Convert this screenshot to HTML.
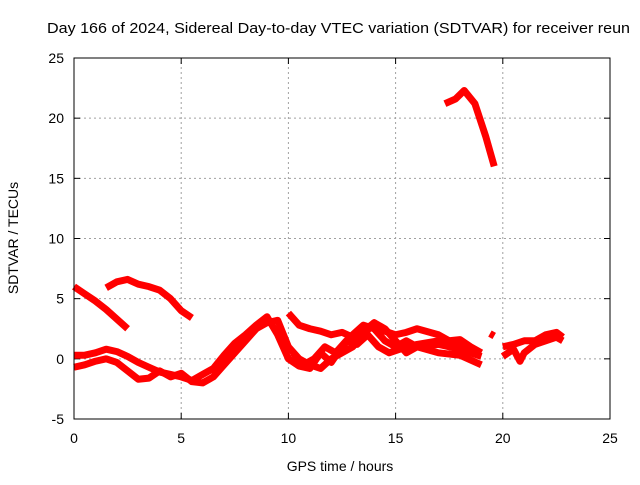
<!DOCTYPE html>
<html><head><meta charset="utf-8"><style>
body{margin:0;background:#fff}
svg text{font-family:"Liberation Sans",sans-serif;font-size:14px;fill:#000}
</style></head><body>
<svg id="c" width="640" height="480">
<text x="47" y="33" textLength="583" lengthAdjust="spacingAndGlyphs" style="font-size:15px">Day 166 of 2024, Sidereal Day-to-day VTEC variation (SDTVAR) for receiver reun</text>
<g id="grid"></g>
<g id="ticks"></g>
<g id="series"></g>
<rect x="74" y="58" width="536" height="361" fill="none" stroke="#000"/>
<text x="340" y="471" text-anchor="middle">GPS time / hours</text>
<text transform="translate(18,238) rotate(-90)" text-anchor="middle">SDTVAR / TECUs</text>
</svg>
<script>
const xTicks=[0,5,10,15,20,25];
const yTicks=[-5,0,5,10,15,20,25];
const seriesA=[[0,6.0],[0.5,5.4],[1,4.8],[1.5,4.1],[2,3.3],[2.5,2.5]];
const seriesB=[[1.5,5.9],[2,6.4],[2.5,6.6],[3,6.2],[3.5,6.0],[4,5.7],[4.5,5.0],[5,4.0],[5.5,3.4]];
const seriesC=[[17.3,21.2],[17.8,21.6],[18.2,22.3],[18.7,21.2],[19.2,18.5],[19.6,16.0]];
const seriesD=[[0,0.3],[0.5,0.3],[1,0.5],[1.5,0.8],[2,0.6],[2.5,0.2],[3,-0.3],[3.5,-0.7],[4,-1.1],[4.5,-1.3],[5,-1.5],[5.5,-1.8],[6,-1.3],[6.5,-0.8],[7,0.3],[7.5,1.3],[8,2.0],[8.5,2.8],[9,3.5],[9.5,2.0],[10,0.0],[10.5,-0.6],[11,-0.8],[11.5,0.5],[12,-0.3],[12.5,1.0],[13,2.0],[13.5,2.8],[14,2.5],[14.5,1.5],[15,1.0],[15.5,1.5],[16,1.0],[17,1.2],[18,0.8],[19,0.2]];
const seriesE=[[0,-0.7],[0.5,-0.5],[1,-0.2],[1.5,0.0],[2,-0.3],[2.5,-1.0],[3,-1.7],[3.5,-1.6],[4,-1.0],[4.5,-1.5],[5,-1.2],[5.5,-1.9],[6,-2.0],[6.5,-1.5],[7,-0.5],[7.5,0.5],[8,1.5],[8.5,2.5],[9,3.0],[9.5,3.2],[10,1.0],[10.5,0.0],[11,-0.5],[11.5,-0.8],[12,0.0],[12.5,0.5],[13,1.0],[13.5,2.0],[14,3.0],[14.5,2.5],[15,1.5],[15.5,0.5],[16,1.0],[17,0.5],[18,0.3],[19,-0.5]];
const seriesF=[[10,3.8],[10.5,2.8],[11,2.5],[11.5,2.3],[12,2.0],[12.5,2.2],[13,1.8],[13.5,2.3],[14,3.0],[14.5,2.3],[15,2.0],[15.5,2.2],[16,2.5],[17,2.0],[17.5,1.5],[18,1.6],[18.5,1.0],[19,0.5]];
const seriesG=[[10.2,0.5],[10.7,-0.5],[11.2,0.0],[11.7,1.0],[12.2,0.5],[12.7,1.5],[13.2,1.2],[13.7,2.0],[14.2,1.0],[14.7,0.5],[15.2,0.8],[16,1.2],[17,1.5],[18,1.3],[18.5,0.5]];
const seriesH=[[20,1.0],[20.5,1.2],[21,1.5],[21.5,1.5],[22,2.0],[22.5,2.2],[22.8,1.8]];
const seriesI=[[20,0.2],[20.5,0.8],[20.8,-0.2],[21,0.5],[21.5,1.2],[22,1.5],[22.5,1.8],[22.8,1.5]];
const seriesJ=[[19.4,2.1],[19.6,1.9]];
const allSeries=[seriesA,seriesB,seriesC,seriesD,seriesE,seriesF,seriesG,seriesH,seriesI,seriesJ];
const X0=74,X1=610,Y0=419,Y1=58;
const xs=v=>X0+(v-0)/25*(X1-X0);
const ys=v=>Y0-(v+5)/30*(Y0-Y1);
const NS="http://www.w3.org/2000/svg";
const grid=document.getElementById('grid'),ticks=document.getElementById('ticks'),sg=document.getElementById('series');
function mk(t,a,p){const e=document.createElementNS(NS,t);for(const k in a)e.setAttribute(k,a[k]);p.appendChild(e);return e;}
xTicks.forEach(v=>{const x=xs(v);
 if(v>0&&v<25){const l=mk('line',{x1:x,x2:x,y1:Y0,y2:Y1,stroke:'#a0a0a0','stroke-dasharray':'2,3'},grid);}
 const t=mk('line',{x1:x,x2:x,y1:Y0,y2:Y0-6,stroke:'#000'},ticks);
 const t2=mk('line',{x1:x,x2:x,y1:Y1,y2:Y1+6,stroke:'#000'},ticks);
 const tx=mk('text',{x:x,y:Y0+24,'text-anchor':'middle'},ticks);tx.textContent=v;});
yTicks.forEach(v=>{const y=ys(v);
 if(v>-5&&v<25){const l=mk('line',{x1:X0,x2:X1,y1:y,y2:y,stroke:'#a0a0a0','stroke-dasharray':'2,3'},grid);}
 const t=mk('line',{x1:X0,x2:X0+6,y1:y,y2:y,stroke:'#000'},ticks);
 const t2=mk('line',{x1:X1,x2:X1-6,y1:y,y2:y,stroke:'#000'},ticks);
 const tx=mk('text',{x:X0-10,y:y+5,'text-anchor':'end'},ticks);tx.textContent=v;});
allSeries.forEach(s=>{const p=mk('polyline',{points:s.map(d=>xs(d[0])+','+ys(d[1])).join(' '),fill:'none',stroke:'#ff0000','stroke-width':7,'stroke-linejoin':'round'},sg);
 
 });
</script>
</body></html>
